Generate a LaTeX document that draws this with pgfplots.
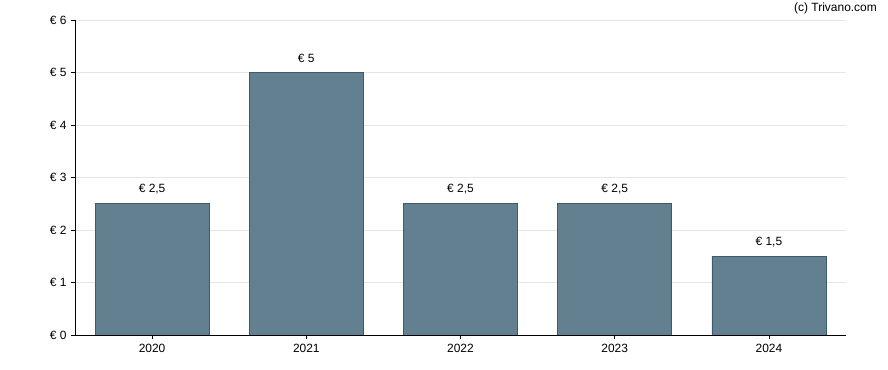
\documentclass[border=0pt]{standalone}
\usepackage{pgfplots}
\pgfplotsset{compat=1.18}
\usepackage{fontspec}
\setmainfont{Liberation Sans}
\definecolor{barfill}{HTML}{62808F}
\definecolor{barline}{HTML}{42596B}
\definecolor{gridc}{HTML}{E6E6E6}
\begin{document}
\begin{tikzpicture}
\useasboundingbox (-75bp,-35bp) rectangle (813bp,335bp);
\begin{axis}[
  scale only axis,
  width=771bp, height=315bp,
  xmin=-0.5, xmax=4.5, ymin=0, ymax=6,
  axis x line*=bottom, axis y line*=left,
  axis line style={black, line width=0.8pt, -},
  xtick={0,1,2,3,4},
  xticklabels={2020,2021,2022,2023,2024},
  ytick={0,1,2,3,4,5,6},
  yticklabel={€ \pgfmathprintnumber{\tick}},
  tick align=outside,
  major tick length=4bp,
  tick style={black, line width=0.8pt},
  ymajorgrids,
  grid style={gridc, line width=0.6pt},
  ticklabel style={font=\fontsize{12}{14}\selectfont, text=black},
  xticklabel style={yshift=-2bp},
  yticklabel style={xshift=-1bp},
  /pgf/number format/assume math mode=true,
  /pgf/number format/use comma,
  nodes near coords={€ \pgfmathprintnumber{\pgfplotspointmeta}},
  nodes near coords style={font=\fontsize{12}{14}\selectfont, text=black, anchor=south, yshift=6bp},
]
\addplot[ybar, bar width=114bp, fill=barfill, draw=barline, line width=0.8pt] coordinates {
  (0,2.5) (1,5) (2,2.5) (3,2.5) (4,1.5)
};
\end{axis}
\node[anchor=north east, font=\fontsize{12}{14}\selectfont, inner sep=0pt] at (802bp,332bp) {(c) Trivano.com};
\end{tikzpicture}
\end{document}
